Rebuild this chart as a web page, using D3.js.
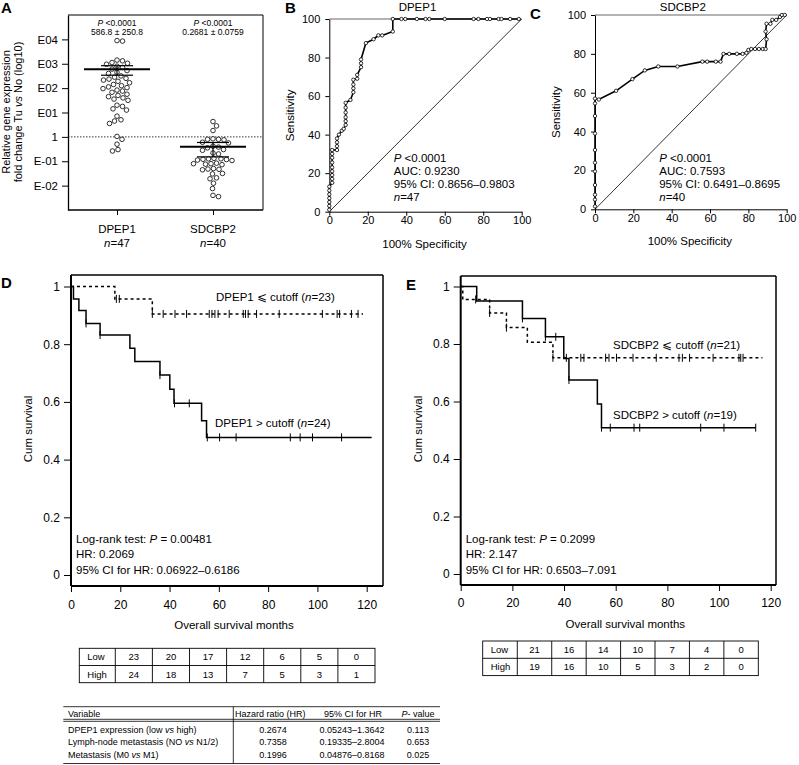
<!DOCTYPE html>
<html>
<head>
<meta charset="utf-8">
<script src="https://cdn.jsdelivr.net/npm/d3@7"></script>
<style>
body { margin: 0; background: #fff; }
svg { font-family: "Liberation Sans", Arial, sans-serif; }
.axis path, .axis line { stroke: #000; }
.axis text { fill: #000; }
</style>
</head>
<body>
<svg id="fig" width="799" height="765"></svg>
<script>
// ---- panel A: log10 fold change Tu vs No
var groupsA = ["DPEP1", "SDCBP2"];
var groupN = ["47", "40"];
var dpep1Expr = [3.95, 3.93,
  3.15, 3.12, 3.05, 3.02, 2.98,
  2.9, 2.85, 2.78, 2.72, 2.65, 2.6,
  2.5, 2.45, 2.4, 2.37, 2.33, 2.28, 2.22,
  2.15, 2.1, 2.05, 2.02, 1.98, 1.92, 1.88, 1.83,
  1.75, 1.7, 1.65, 1.6, 1.55, 1.5,
  1.3, 1.25, 1.15, 1.1,
  0.85, 0.7, 0.65, 0.55,
  0.02, -0.1,
  -0.3, -0.52, -0.58];
var sdcbp2Expr = [0.63, 0.45, 0.26,
  -0.08, -0.1, -0.1, -0.12,
  -0.22, -0.25,
  -0.38, -0.42, -0.45,
  -0.52, -0.55,
  -0.66, -0.7,
  -0.88, -0.9, -0.92, -0.93, -0.95, -0.9, -0.97,
  -1.08, -1.1, -1.12, -1.1, -1.14,
  -1.3, -1.33, -1.35, -1.32,
  -1.5, -1.52,
  -1.68, -1.72,
  -1.9,
  -2.12,
  -2.4, -2.45];
// mean, sem low, sem high (log10)
var meanA = [2.77, -0.4];
var semLowA = [2.53, -0.82];
var semHighA = [2.92, -0.23];
var statP = ["<0.0001", "<0.0001"];
var statMean = ["586.8 \u00b1 250.8", "0.2681 \u00b1 0.0759"];
var ticksA = [-2, -1, 0, 1, 2, 3, 4];
var tickLabelsA = ["E-02", "E-01", "1", "E01", "E02", "E03", "E04"];

// ---- panels B, C: ROC  [100% - specificity, sensitivity]
var rocDpep1 = [[0, 1], [0, 3], [0, 5], [0, 7], [0, 9], [0, 11], [0, 13],
  [1.5, 15], [1.5, 17], [1.5, 19], [1.5, 21], [1.5, 23], [1.5, 25.5], [1.5, 28], [1.5, 30], [1.5, 32],
  [4, 32], [4, 34], [4, 36], [4, 38], [5, 40], [6.5, 42], [7.5, 43],
  [8.5, 45], [8.5, 47], [8.5, 49], [8.5, 51.5], [8.5, 54], [8.5, 56.5],
  [11, 58], [12.5, 62], [12.5, 64], [12.5, 66], [12.5, 68.5], [14.5, 69], [14.5, 71],
  [16.5, 75], [16.5, 77], [16.5, 79], [19, 87.5], [23, 89.5], [25.5, 91.5], [27.5, 91.5],
  [33, 93.5], [33, 100], [37.5, 100], [39.5, 100], [45.5, 100], [50, 100], [52, 100], [60, 100],
  [75, 100], [77.5, 100], [82, 100], [83.5, 100], [88, 100], [89.5, 100], [94, 100], [98.5, 100]];
var rocSdcbp2 = [[0, 1.5], [0, 5], [0, 7.5], [0, 12.5], [0, 19.5], [0, 24], [0, 30.5], [0, 39], [0, 48],
  [0, 54.5], [0, 57], [2, 56.5], [11, 61], [19.5, 67], [26, 71.5], [33, 73.5], [43, 73.5],
  [56, 76], [58.5, 76], [63, 76], [65.5, 76], [67, 80], [70, 80], [74, 80], [77, 80],
  [79, 80.5], [80, 82], [81.5, 82.5], [83.5, 82.5], [85.5, 82.5], [87.5, 82.5], [89, 82.5],
  [89.5, 87.5], [89, 91.5], [89.5, 95.5], [91.5, 95.5], [92.5, 97.5], [94.5, 97.5],
  [96.5, 99], [97.5, 100], [99, 100]];
var rocStatsB = ["AUC: 0.9230", "95% CI: 0.8656\u20130.9803", "47"];
var rocStatsC = ["AUC: 0.7593", "95% CI: 0.6491\u20130.8695", "40"];

// ---- panels D, E: Kaplan-Meier  [month, cum survival]
var dLowSteps = [[0, 1], [17.8, 0.957], [33, 0.905]];
var dLowEnd = 118.5;
var dLowCensor = [18.4, 19.6, 33, 37.4, 42.2, 46.9, 56.1, 57.2, 58.4, 59.7, 64.2, 69.9, 70.8, 71.9,
  75.3, 84.5, 102, 108, 109, 113.8, 116.5];
var dHighSteps = [[0, 1], [1, 0.957], [3.2, 0.917], [6.1, 0.872], [11.8, 0.832], [23.9, 0.786],
  [25.9, 0.74], [36.1, 0.693], [40.1, 0.644], [41.8, 0.595], [53, 0.535], [55, 0.477]];
var dHighEnd = 122;
var dHighCensor = [6.1, 11.8, 36.1, 42, 48, 55.3, 60.3, 67, 89, 93, 98, 109.8];

var eLowSteps = [[0, 1], [0.8, 0.955], [11.2, 0.908], [17.7, 0.857], [25.8, 0.806], [35.7, 0.752]];
var eLowEnd = 116.8;
var eLowCensor = [5.8, 11.2, 17.7, 35.7, 40.9, 46.5, 47.7, 56.1, 57.4, 60.3, 66.7, 75.7, 84.5, 85.8,
  88.6, 97.7, 107.7, 108.4, 109.3];
var eHighSteps = [[0, 1], [6.2, 0.95], [23.9, 0.889], [32.8, 0.825], [39.9, 0.75], [41.9, 0.675],
  [52.9, 0.591], [54.5, 0.509]];
var eHighEnd = 114.2;
var eHighCensor = [23.9, 32.8, 36.8, 41.9, 54.5, 57.9, 67.1, 69.3, 92.9, 101.9, 114.2];

// numbers at risk
var riskD = { low: [23, 20, 17, 12, 6, 5, 0], high: [24, 18, 13, 7, 5, 3, 1] };
var riskE = { low: [21, 16, 14, 10, 7, 4, 0], high: [19, 16, 10, 5, 3, 2, 0] };

// cox table
var coxVar = [["DPEP1 expression (low ", " high)"], ["Lymph-node metastasis (NO ", " N1/2)"], ["Metastasis (M0 ", " M1)"]];
var coxHR = ["0.2674", "0.7358", "0.1996"];
var coxCI = ["0.05243\u20131.3642", "0.19335\u20132.8004", "0.04876\u20130.8168"];
var coxP = ["0.113", "0.653", "0.025"];

var svg = d3.select("#fig");

// text helper, parts: strings, or {i: "..."} for italic
function txt(x, y, size, parts, anchor, weight) {
  var t = svg.append("text")
    .attr("x", x).attr("y", y)
    .style("font-size", size + "px")
    .attr("text-anchor", anchor || "start");
  if (weight) t.style("font-weight", weight);
  [].concat(parts).forEach(function (p) {
    if (typeof p === "string") t.append("tspan").text(p);
    else t.append("tspan").style("font-style", "italic").text(p.i);
  });
  return t;
}

function vtxt(x, y, size, parts) {
  return txt(0, 0, size, parts, "middle").attr("transform", "translate(" + x + "," + y + ") rotate(-90)");
}

function line(x1, y1, x2, y2, w, dash) {
  svg.append("line").attr("x1", x1).attr("y1", y1).attr("x2", x2).attr("y2", y2)
    .attr("stroke", "#000").attr("stroke-width", w || 1)
    .attr("stroke-dasharray", dash || null);
}

// ================= A
var yA = d3.scaleLinear().domain([-3, 5]).range([210, 15]);
var xA = d3.scalePoint().domain(groupsA).range([117, 213]);

svg.append("g").attr("class", "axis")
  .attr("transform", "translate(68,0)")
  .call(d3.axisLeft(yA).tickValues(ticksA).tickSize(6).tickPadding(4).tickSizeOuter(0)
    .tickFormat(function (d, i) { return tickLabelsA[i]; }))
  .call(function (g) { g.selectAll("text").style("font-size", "11.5px"); g.select(".domain").attr("stroke-width", 1.3); });
svg.append("g").attr("class", "axis")
  .attr("transform", "translate(0,210)")
  .call(d3.axisBottom(xA).tickSize(5).tickSizeOuter(0).tickFormat(""))
  .call(function (g) { g.select(".domain").attr("d", "M68,0H263").attr("stroke-width", 1.3); });
line(68, 15, 263, 15, 1);
line(263, 15, 263, 210, 1);
line(68, yA(0), 263, yA(0), 0.8, "1.5,1.5");

function swarm(vals, r) {
  var placed = [];
  vals.map(function (v) { return yA(v); }).sort(d3.ascending).forEach(function (py) {
    for (var k = 0; k < 400; k++) {
      var dx = (k % 2 ? 1 : -1) * Math.ceil(k / 2) * 0.5;
      var ok = placed.every(function (p) {
        return (p.dx - dx) * (p.dx - dx) + (p.y - py) * (p.y - py) >= (2 * r + 0.8) * (2 * r + 0.8);
      });
      if (ok) { placed.push({ dx: dx, y: py }); break; }
    }
  });
  return placed;
}

[dpep1Expr, sdcbp2Expr].forEach(function (vals, gi) {
  var cx = xA(groupsA[gi]);
  svg.append("g").selectAll("circle")
    .data(swarm(vals, 2.3))
    .enter().append("circle")
    .attr("cx", function (d) { return cx + d.dx; })
    .attr("cy", function (d) { return d.y; })
    .attr("r", 2.3)
    .attr("fill", "#fff").attr("stroke", "#000").attr("stroke-width", 0.8);
  line(cx - 33, yA(meanA[gi]), cx + 33, yA(meanA[gi]), 2);
  line(cx - 16, yA(semHighA[gi]), cx + 16, yA(semHighA[gi]), 1.2);
  line(cx - 16, yA(semLowA[gi]), cx + 16, yA(semLowA[gi]), 1.2);
  line(cx, yA(semLowA[gi]), cx, yA(semHighA[gi]), 1.2);
  txt(cx, 26, 8.5, [{ i: "P" }, " " + statP[gi]], "middle");
  txt(cx, 35, 8.5, statMean[gi], "middle");
  txt(xA(groupsA[gi]), 233, 11.5, groupsA[gi], "middle");
  txt(xA(groupsA[gi]), 246.5, 11.5, [{ i: "n" }, "=" + groupN[gi]], "middle");
});
vtxt(10, 112, 11, "Relative gene expression");
vtxt(21.5, 112, 11, ["fold change Tu ", { i: "vs" }, " No (log10)"]);
txt(1, 13, 15, "A", "start", "bold");

// ================= B, C
function roc(pts, x0, x1, y0, y1, title, stats) {
  var x = d3.scaleLinear().domain([0, 100]).range([x0, x1]);
  var y = d3.scaleLinear().domain([0, 100]).range([y0, y1]);
  svg.append("g").attr("class", "axis")
    .attr("transform", "translate(0," + y0 + ")")
    .call(d3.axisBottom(x).tickValues([0, 20, 40, 60, 80, 100]).tickSize(4).tickPadding(1).tickSizeOuter(0))
    .call(function (g) { g.selectAll("text").style("font-size", "11px"); });
  svg.append("g").attr("class", "axis")
    .attr("transform", "translate(" + x0 + ",0)")
    .call(d3.axisLeft(y).tickValues([0, 20, 40, 60, 80, 100]).tickSize(4).tickPadding(5).tickSizeOuter(0))
    .call(function (g) { g.selectAll("text").style("font-size", "11px"); });
  line(x0, y1, x1, y1, 0.6);
  line(x(0), y(0), x(100), y(100), 0.8);
  svg.append("path").datum(pts)
    .attr("fill", "none").attr("stroke", "#000").attr("stroke-width", 1.6)
    .attr("d", d3.line().x(function (d) { return x(d[0]); }).y(function (d) { return y(d[1]); }));
  svg.append("g").selectAll("circle").data(pts).enter().append("circle")
    .attr("cx", function (d) { return x(d[0]); })
    .attr("cy", function (d) { return y(d[1]); })
    .attr("r", 1.7).attr("fill", "#fff").attr("stroke", "#000").attr("stroke-width", 0.8);
  var mid = (x0 + x1) / 2;
  txt(mid - 8, 11, 11.5, title, "middle");
  txt(mid - 1, y0 + 36, 11.5, "100% Specificity", "middle");
  vtxt(x0 - 35, (y0 + y1) / 2, 11.5, "Sensitivity");
  var tx = x(33.5);
  txt(tx, 161.5, 11.5, [{ i: "P" }, " <0.0001"]);
  txt(tx, 174.6, 11.5, stats[0]);
  txt(tx, 187.7, 11.5, stats[1]);
  txt(tx, 200.8, 11.5, [{ i: "n" }, "=" + stats[2]]);
  return x;
}
roc(rocDpep1, 329.3, 521.7, 211.7, 19, "DPEP1", rocStatsB);
roc(rocSdcbp2, 595, 786.7, 209.3, 15, "SDCBP2", rocStatsC);
txt(285, 13, 15, "B", "start", "bold");
txt(530, 19, 15, "C", "start", "bold");

// ================= D, E
function survAt(steps, t) {
  var s = 1;
  steps.forEach(function (d) { if (d[0] <= t) s = d[1]; });
  return s;
}

function kmPanel(o) {
  var x = d3.scaleLinear().domain([0, 120]).range([o.x0, o.x120]);
  var y = d3.scaleLinear().domain([0, 1]).range([o.y0, o.y1]);
  svg.append("g").attr("class", "axis")
    .attr("transform", "translate(0," + o.bottom + ")")
    .call(d3.axisBottom(x).tickValues([0, 20, 40, 60, 80, 100, 120]).tickSize(6).tickPadding(o.xpad).tickSizeOuter(0))
    .call(function (g) {
      g.selectAll("text").style("font-size", "12px");
      g.select(".domain").attr("d", "M" + o.x0 + ",0H" + o.right).attr("stroke-width", 2);
    });
  svg.append("g").attr("class", "axis")
    .attr("transform", "translate(" + o.x0 + ",0)")
    .call(d3.axisLeft(y).tickValues([0, 0.2, 0.4, 0.6, 0.8, 1]).tickSize(7).tickPadding(4).tickSizeOuter(0)
      .tickFormat(function (d) { return d === 0 || d === 1 ? d3.format("d")(d) : d3.format(".1f")(d); }))
    .call(function (g) {
      g.selectAll("text").style("font-size", "12px");
      g.select(".domain").attr("d", "M0," + o.top + "V" + o.bottom).attr("stroke-width", 2);
    });
  line(o.x0, o.top, o.right, o.top, 1.5);
  line(o.right, o.top, o.right, o.bottom, 1.5);

  var km = d3.line().curve(d3.curveStepAfter)
    .x(function (d) { return x(d[0]); }).y(function (d) { return y(d[1]); });
  o.curves.forEach(function (c) {
    var pts = c.steps.concat([[c.end, c.steps[c.steps.length - 1][1]]]);
    svg.append("path").datum(pts)
      .attr("fill", "none").attr("stroke", "#000").attr("stroke-width", 1.5)
      .attr("stroke-dasharray", c.dash ? "3,3" : null)
      .attr("d", km);
    svg.append("g").selectAll("line").data(c.censor).enter().append("line")
      .attr("x1", function (d) { return x(d); }).attr("x2", function (d) { return x(d); })
      .attr("y1", function (d) { return y(survAt(c.steps, d)) - 4; })
      .attr("y2", function (d) { return y(survAt(c.steps, d)) + 4; })
      .attr("stroke", "#000").attr("stroke-width", 1);
    txt(c.lx, c.ly, 11.5, c.label);
  });
  var sx = o.x0 + 5;
  txt(sx, 542.5, 11.5, ["Log-rank test: ", { i: "P" }, " = " + o.stats[0]]);
  txt(sx, 558, 11.5, "HR: " + o.stats[1]);
  txt(sx, 573.5, 11.5, "95% CI for HR: " + o.stats[2]);
  txt((o.x0 + o.right) / 2 + 7, o.bottom + 42.5, 11.5, "Overall survival months", "middle");
  vtxt(o.x0 - 39, 429, 11.5, "Cum survival");

  // numbers at risk
  var t = o.table;
  var w0 = t.w0, w = (t.x1 - t.x0 - w0) / 7;
  svg.append("rect").attr("x", t.x0).attr("y", t.y0).attr("width", t.x1 - t.x0).attr("height", t.h * 2)
    .attr("fill", "none").attr("stroke", "#000").attr("stroke-width", 0.9);
  line(t.x0, t.y0 + t.h, t.x1, t.y0 + t.h, 0.9);
  for (var i = 0; i < 7; i++) line(t.x0 + w0 + i * w, t.y0, t.x0 + w0 + i * w, t.y0 + 2 * t.h, 0.9);
  [["Low", o.risk.low], ["High", o.risk.high]].forEach(function (r, ri) {
    var by = t.y0 + ri * t.h + t.h / 2 + 3.5;
    txt(t.x0 + 8, by, 9.5, r[0]);
    r[1].forEach(function (v, i) { txt(t.x0 + w0 + (i + 0.5) * w, by, 9.5, String(v), "middle"); });
  });
}

kmPanel({
  x0: 71, x120: 366.7, y0: 575, y1: 286.5, top: 275, bottom: 586, right: 383, xpad: 8,
  stats: ["0.00481", "0.2069", "0.06922\u20130.6186"],
  risk: riskD,
  table: { x0: 79.3, x1: 375, y0: 648.3, h: 17.2, w0: 36 },
  curves: [
    { steps: dLowSteps, end: dLowEnd, censor: dLowCensor, dash: true, lx: 216, ly: 301,
      label: ["DPEP1 \u2a7d cutoff (", { i: "n" }, "=23)"] },
    { steps: dHighSteps, end: dHighEnd, censor: dHighCensor, dash: false, lx: 215, ly: 427,
      label: ["DPEP1 > cutoff (", { i: "n" }, "=24)"] }
  ]
});
kmPanel({
  x0: 460.7, x120: 770.7, y0: 574, y1: 286.5, top: 276, bottom: 585, right: 776, xpad: 7,
  stats: ["0.2099", "2.147", "0.6503\u20137.091"],
  risk: riskE,
  table: { x0: 482.7, x1: 758.3, y0: 641, h: 17.3, w0: 34.6 },
  curves: [
    { steps: eLowSteps, end: eLowEnd, censor: eLowCensor, dash: true, lx: 613, ly: 348.5,
      label: ["SDCBP2 \u2a7d cutoff (", { i: "n" }, "=21)"] },
    { steps: eHighSteps, end: eHighEnd, censor: eHighCensor, dash: false, lx: 613, ly: 419,
      label: ["SDCBP2 > cutoff (", { i: "n" }, "=19)"] }
  ]
});
txt(1, 288, 15, "D", "start", "bold");
txt(406, 290, 15, "E", "start", "bold");

// ================= cox table
var tx0 = 63.3, tx1 = 440, tcol = 233.3;
line(tx0, 706.7, tx1, 706.7, 0.8);
line(tx0, 719.3, tx1, 719.3, 0.8);
line(tx0, 721.3, tx1, 721.3, 0.8);
line(tx0, 763.5, tx1, 763.5, 0.8);
line(tcol, 706.7, tcol, 763.5, 0.8);
txt(68, 716.5, 9, "Variable");
txt(235, 716.5, 9, "Hazard ratio (HR)");
txt(353, 716.5, 9, "95% CI for HR", "middle");
txt(418, 716.5, 9, [{ i: "P" }, "- value"], "middle");
coxVar.forEach(function (v, i) {
  var by = 732.5 + i * 12.8;
  txt(68, by, 9, [v[0], { i: "vs" }, v[1]]);
  txt(273, by, 9, coxHR[i], "middle");
  txt(352, by, 9, coxCI[i], "middle");
  txt(418, by, 9, coxP[i], "middle");
});
</script>
</body>
</html>
